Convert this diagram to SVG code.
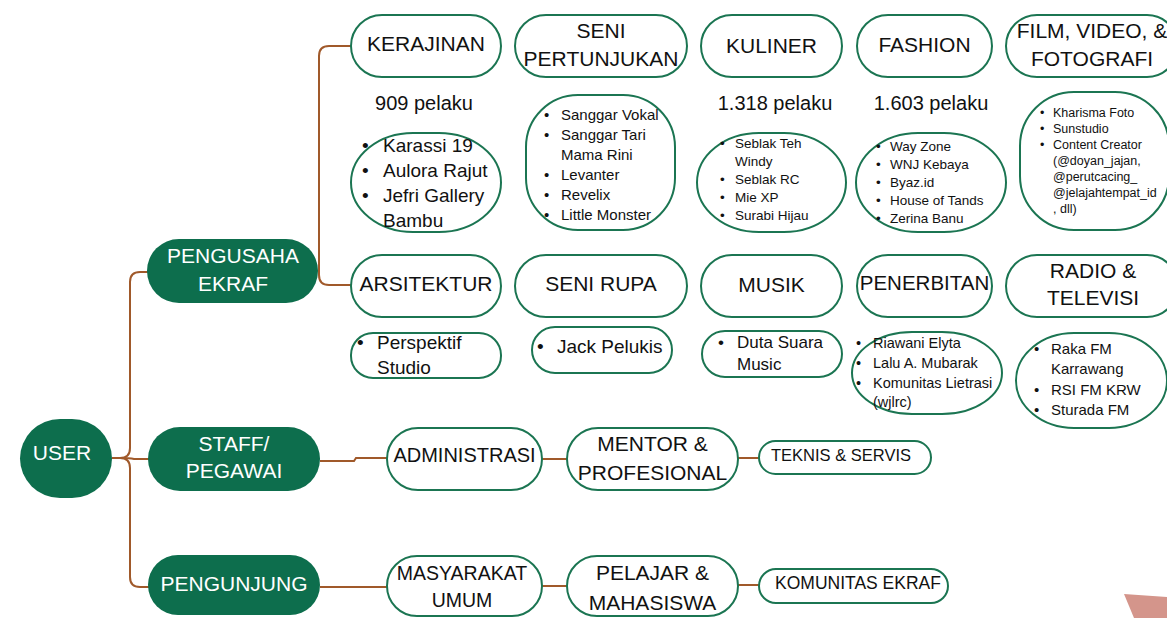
<svg xmlns="http://www.w3.org/2000/svg" width="1167" height="618" viewBox="0 0 1167 618">
<style>
.bg{fill:#ffffff}
.n{fill:#ffffff;stroke:#1b7552;stroke-width:2}
.f{fill:#0d6e4d;stroke:none}
.t{font-family:"Liberation Sans",Arial,sans-serif;fill:#111111;text-anchor:middle}
.w{font-family:"Liberation Sans",Arial,sans-serif;fill:#ffffff;text-anchor:middle;font-size:21px}
.l{font-family:"Liberation Sans",Arial,sans-serif;fill:#111111}
.c{fill:none;stroke:#a0592a;stroke-width:2}
</style>
<rect class="bg" x="0" y="0" width="1167" height="618"/>
<polygon points="1124,594 1167,597 1167,618 1134,618" fill="#d4958b"/>

<g id="connectors">
<path class="c" d="M112,458 H120 Q130,458 130,448 V282 Q130,272 140,272 H148"/>
<path class="c" d="M120,458 Q130,458 130,468 V577 Q130,587 140,587 H149"/>
<path class="c" d="M120,458 Q130,458 134,459 H149"/>
<path class="c" d="M352,46 H329 Q319,46 319,56 V275 Q319,285 329,285 H352"/>
<path class="c" d="M320,461 H354 L356,458 H388"/>
<path class="c" d="M542,459 H568"/>
<path class="c" d="M738,458 H760"/>
<path class="c" d="M320,587 H388"/>
<path class="c" d="M542,586 H568"/>
<path class="c" d="M738,585 H760"/>
</g>

<g id="user">
<rect class="f" x="20" y="419" width="92" height="79" rx="40"/>
<text class="w" x="62" y="460">USER</text>
</g>
<g id="pengusaha">
<rect class="f" x="147" y="239" width="171" height="64" rx="32"/>
<text class="w" x="233" y="262.5">PENGUSAHA</text>
<text class="w" x="233" y="290.5">EKRAF</text>
</g>
<g id="staff">
<rect class="f" x="148" y="427" width="172" height="64" rx="32"/>
<text class="w" x="234" y="450.5">STAFF/</text>
<text class="w" x="234" y="477.5">PEGAWAI</text>
</g>
<g id="pengunjung">
<rect class="f" x="148" y="555" width="172" height="60" rx="30"/>
<text class="w" x="234" y="590.5">PENGUNJUNG</text>
</g>

<g id="kerajinan">
<rect class="n" x="351" y="15" width="150" height="62" rx="31"/>
<text class="t" x="426" y="51" font-size="21">KERAJINAN</text>
</g>
<g id="seni-pertunjukan">
<rect class="n" x="515" y="15" width="172" height="62" rx="31"/>
<text class="t" x="601" y="37.5" font-size="21">SENI</text>
<text class="t" x="601" y="65.5" font-size="21">PERTUNJUKAN</text>
</g>
<g id="kuliner">
<rect class="n" x="701" y="15" width="141" height="62" rx="31"/>
<text class="t" x="771.5" y="52.5" font-size="21">KULINER</text>
</g>
<g id="fashion">
<rect class="n" x="857" y="15" width="135" height="62" rx="31"/>
<text class="t" x="924.5" y="51.5" font-size="21">FASHION</text>
</g>
<g id="film">
<rect class="n" x="1006" y="15" width="172" height="62" rx="31"/>
<text class="t" x="1092" y="37.5" font-size="21">FILM, VIDEO, &amp;</text>
<text class="t" x="1092" y="65.5" font-size="21">FOTOGRAFI</text>
</g>

<g id="pelaku">
<text class="t" x="424" y="110" font-size="20">909 pelaku</text>
<text class="t" x="775" y="110" font-size="20">1.318 pelaku</text>
<text class="t" x="931" y="110" font-size="20">1.603 pelaku</text>
</g>

<g id="list-kerajinan">
<rect class="n" x="351" y="133" width="150" height="99" rx="62" ry="49.5"/>
<g class="l" font-size="19">
<text x="362" y="152">•</text><text x="383" y="152">Karassi 19</text>
<text x="362" y="177">•</text><text x="383" y="177">Aulora Rajut</text>
<text x="362" y="202">•</text><text x="383" y="202">Jefri Gallery</text>
<text x="383" y="227">Bambu</text>
</g>
</g>
<g id="list-seni-pertunjukan">
<rect class="n" x="526" y="95" width="149" height="135" rx="52" ry="52"/>
<g class="l" font-size="15">
<text x="544" y="120">•</text><text x="561" y="120">Sanggar Vokal</text>
<text x="544" y="140">•</text><text x="561" y="140">Sanggar Tari</text>
<text x="561" y="160">Mama Rini</text>
<text x="544" y="180">•</text><text x="561" y="180">Levanter</text>
<text x="544" y="200">•</text><text x="561" y="200">Revelix</text>
<text x="544" y="220">•</text><text x="561" y="220">Little Monster</text>
</g>
</g>
<g id="list-kuliner">
<rect class="n" x="697" y="133" width="149" height="99" rx="62" ry="49.5"/>
<g class="l" font-size="13.5">
<text x="720" y="148">•</text><text x="735" y="148">Seblak Teh</text>
<text x="735" y="166">Windy</text>
<text x="720" y="184">•</text><text x="735" y="184">Seblak RC</text>
<text x="720" y="202">•</text><text x="735" y="202">Mie XP</text>
<text x="720" y="220">•</text><text x="735" y="220">Surabi Hijau</text>
</g>
</g>
<g id="list-fashion">
<rect class="n" x="856" y="133" width="150" height="99" rx="62" ry="49.5"/>
<g class="l" font-size="13.5">
<text x="876" y="151">•</text><text x="890" y="151">Way Zone</text>
<text x="876" y="169">•</text><text x="890" y="169">WNJ Kebaya</text>
<text x="876" y="187">•</text><text x="890" y="187">Byaz.id</text>
<text x="876" y="205">•</text><text x="890" y="205">House of Tands</text>
<text x="876" y="223">•</text><text x="890" y="223">Zerina Banu</text>
</g>
</g>
<g id="list-film">
<rect class="n" x="1020" y="92" width="149" height="138" rx="54" ry="54"/>
<g class="l" font-size="12.5">
<text x="1040" y="117">•</text><text x="1053" y="117">Kharisma Foto</text>
<text x="1040" y="133">•</text><text x="1053" y="133">Sunstudio</text>
<text x="1040" y="149">•</text><text x="1053" y="149">Content Creator</text>
<text x="1053" y="165">(@doyan_jajan,</text>
<text x="1053" y="181">@perutcacing_</text>
<text x="1053" y="197">@jelajahtempat_id</text>
<text x="1053" y="213">, dll)</text>
</g>
</g>

<g id="arsitektur">
<rect class="n" x="351" y="255" width="150" height="62" rx="31"/>
<text class="t" x="426" y="290.5" font-size="21">ARSITEKTUR</text>
</g>
<g id="seni-rupa">
<rect class="n" x="515" y="255" width="172" height="62" rx="31"/>
<text class="t" x="601" y="290.5" font-size="21">SENI RUPA</text>
</g>
<g id="musik">
<rect class="n" x="701" y="255" width="141" height="62" rx="31"/>
<text class="t" x="771.5" y="291.5" font-size="21">MUSIK</text>
</g>
<g id="penerbitan">
<rect class="n" x="857" y="255" width="135" height="62" rx="31"/>
<text class="t" x="924.5" y="290" font-size="20.5">PENERBITAN</text>
</g>
<g id="radio">
<rect class="n" x="1006" y="255" width="172" height="62" rx="31"/>
<text class="t" x="1093" y="277.5" font-size="21">RADIO &amp;</text>
<text class="t" x="1093" y="304.5" font-size="21">TELEVISI</text>
</g>

<g id="list-arsitektur">
<rect class="n" x="351" y="333" width="150" height="45" rx="22"/>
<g class="l" font-size="19">
<text x="357" y="349">•</text><text x="377" y="349">Perspektif</text>
<text x="377" y="374">Studio</text>
</g>
</g>
<g id="list-seni-rupa">
<rect class="n" x="532" y="327" width="140" height="46" rx="23"/>
<g class="l" font-size="19">
<text x="537" y="353">•</text><text x="557" y="353">Jack Pelukis</text>
</g>
</g>
<g id="list-musik">
<rect class="n" x="702" y="331" width="140" height="46" rx="23"/>
<g class="l" font-size="17">
<text x="718" y="348">•</text><text x="737" y="348">Duta Suara</text>
<text x="737" y="370">Music</text>
</g>
</g>
<g id="list-penerbitan">
<rect class="n" x="852" y="332" width="150" height="82" rx="60" ry="41"/>
<g class="l" font-size="14.5">
<text x="856" y="348">•</text><text x="873" y="348">Riawani Elyta</text>
<text x="856" y="368">•</text><text x="873" y="368">Lalu A. Mubarak</text>
<text x="856" y="388">•</text><text x="873" y="388">Komunitas Lietrasi</text>
<text x="873" y="407">(wjlrc)</text>
</g>
</g>
<g id="list-radio">
<rect class="n" x="1016" y="333" width="151" height="95" rx="58" ry="47.5"/>
<g class="l" font-size="15">
<text x="1034" y="354">•</text><text x="1051" y="354">Raka FM</text>
<text x="1051" y="374">Karrawang</text>
<text x="1034" y="395">•</text><text x="1051" y="395">RSI FM KRW</text>
<text x="1034" y="415">•</text><text x="1051" y="415">Sturada FM</text>
</g>
</g>

<g id="administrasi">
<rect class="n" x="387" y="428" width="155" height="62" rx="31"/>
<text class="t" x="464.5" y="462" font-size="20">ADMINISTRASI</text>
</g>
<g id="mentor">
<rect class="n" x="567" y="428" width="171" height="62" rx="31"/>
<text class="t" x="652.5" y="450.5" font-size="21">MENTOR &amp;</text>
<text class="t" x="652.5" y="479.5" font-size="21">PROFESIONAL</text>
</g>
<g id="teknis">
<rect class="n" x="759" y="441" width="172" height="33" rx="16.5"/>
<text class="t" x="841" y="461" font-size="16.5">TEKNIS &amp; SERVIS</text>
</g>
<g id="masyarakat">
<rect class="n" x="387" y="556" width="155" height="60" rx="30"/>
<text class="t" x="462" y="580" font-size="19.5">MASYARAKAT</text>
<text class="t" x="462" y="607" font-size="19.5">UMUM</text>
</g>
<g id="pelajar">
<rect class="n" x="567" y="556" width="171" height="60" rx="30"/>
<text class="t" x="652.5" y="579.5" font-size="21">PELAJAR &amp;</text>
<text class="t" x="652.5" y="609.5" font-size="21">MAHASISWA</text>
</g>
<g id="komunitas">
<rect class="n" x="759" y="569" width="189" height="34" rx="17"/>
<text class="t" x="858" y="588.5" font-size="17.5">KOMUNITAS EKRAF</text>
</g>
</svg>
